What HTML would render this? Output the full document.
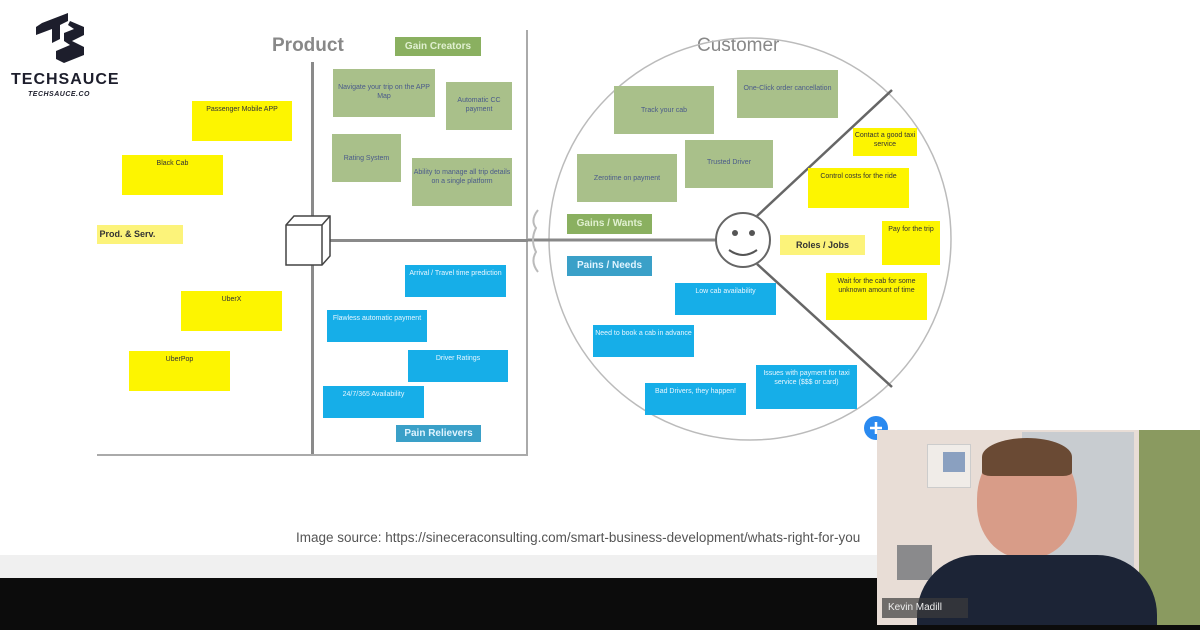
<!DOCTYPE html>
<html><head><meta charset="utf-8"><style>
body{margin:0;width:1200px;height:630px;overflow:hidden;background:#fff;font-family:"Liberation Sans",sans-serif;position:relative}
.b{position:absolute;font-size:7px;text-align:center;line-height:9px;padding-top:4px;box-sizing:border-box}
.y{background:#fdf500;color:#333}
.g{background:#a9c08a;color:#4a5a8a}
.c{background:#16aee8;color:#e8f6ff}
.l{position:absolute;font-size:10px;font-weight:bold;text-align:center;line-height:19px}
.ln{position:absolute;background:#8a8a8a}
</style></head><body>
<!-- logo -->
<svg style="position:absolute;left:34px;top:13px" width="56" height="52" viewBox="0 0 56 52">
<polygon points="8,10 34,0 34,8 26,12 26,26 18,30 18,16 2,22 2,14" fill="#1d1e2c"/>
<polygon points="36,8 50,14 50,22 38,28 50,34 50,42 30,50 22,46 22,38 36,32 30,28 30,20 40,16 34,12" fill="#1d1e2c"/>
</svg>
<div style="position:absolute;left:11px;top:71px;font-size:16px;font-weight:bold;color:#1d1e2c;letter-spacing:1px">TECHSAUCE</div>
<div style="position:absolute;left:28px;top:91px;font-size:7px;font-style:italic;font-weight:bold;color:#1d1e2c;letter-spacing:.5px">TECHSAUCE.CO</div>

<div style="position:absolute;left:272px;top:35px;font-size:19px;color:#888;font-weight:bold">Product</div>
<div style="position:absolute;left:697px;top:35px;font-size:19px;color:#888">Customer</div>

<div class="ln" style="left:311px;top:62px;width:3px;height:393px"></div>
<div class="ln" style="left:526px;top:30px;width:2px;height:426px;background:#aaa"></div>
<div class="ln" style="left:97px;top:454px;width:431px;height:2px;background:#aaa"></div>
<div class="ln" style="left:320px;top:239px;width:208px;height:3px"></div>

<svg style="position:absolute;left:0;top:0" width="1200" height="630">
<circle cx="750" cy="239" r="201" fill="none" stroke="#bbb" stroke-width="1.5"/>
<line x1="528" y1="240" x2="716" y2="240" stroke="#888" stroke-width="3"/>
<line x1="757" y1="216" x2="892" y2="90" stroke="#666" stroke-width="2.5"/>
<line x1="757" y1="264" x2="892" y2="387" stroke="#666" stroke-width="2.5"/>
<circle cx="743" cy="240" r="27" fill="#fff" stroke="#666" stroke-width="2"/>
<circle cx="735" cy="233" r="3" fill="#555"/><circle cx="752" cy="233" r="3" fill="#555"/>
<path d="M729 250 Q743 260 757 250" fill="none" stroke="#555" stroke-width="2"/>
<path d="M538 210 Q530 220 536 228 Q530 240 536 252 Q530 262 538 272" fill="none" stroke="#bbb" stroke-width="2"/>
<g stroke="#444" stroke-width="1.5" fill="#fff">
<polygon points="286,225 294,216 330,216 330,256 322,265 286,265"/>
<line x1="286" y1="225" x2="322" y2="225"/><line x1="322" y1="225" x2="330" y2="216"/><line x1="322" y1="225" x2="322" y2="265"/>
</g>
<circle cx="876" cy="428" r="12" fill="#2a8af0"/>
<path d="M876 422v12M870 428h12" stroke="#fff" stroke-width="2.5"/>
</svg>

<div class="l" style="left:395px;top:37px;width:86px;background:#8ab060;color:#e0f0d0">Gain Creators</div>
<div class="b y" style="left:192px;top:101px;width:100px;height:40px">Passenger Mobile APP</div>
<div class="b y" style="left:122px;top:155px;width:101px;height:40px">Black Cab</div>
<div class="l" style="left:97px;top:225px;width:86px;background:#fcf37a;color:#333;font-size:9px;text-align:left">&nbsp;Prod. &amp; Serv.</div>
<div class="b y" style="left:181px;top:291px;width:101px;height:40px">UberX</div>
<div class="b y" style="left:129px;top:351px;width:101px;height:40px">UberPop</div>

<div class="b g" style="left:333px;top:69px;width:102px;height:48px;padding-top:14px">Navigate your trip on the APP Map</div>
<div class="b g" style="left:446px;top:82px;width:66px;height:48px;padding-top:14px">Automatic CC payment</div>
<div class="b g" style="left:332px;top:134px;width:69px;height:48px;padding-top:20px">Rating System</div>
<div class="b g" style="left:412px;top:158px;width:100px;height:48px;padding-top:10px">Ability to manage all trip details on a single platform</div>

<div class="b c" style="left:405px;top:265px;width:101px;height:32px">Arrival / Travel time prediction</div>
<div class="b c" style="left:327px;top:310px;width:100px;height:32px">Flawless automatic payment</div>
<div class="b c" style="left:408px;top:350px;width:100px;height:32px">Driver Ratings</div>
<div class="b c" style="left:323px;top:386px;width:101px;height:32px">24/7/365 Availability</div>
<div class="l" style="left:396px;top:425px;width:85px;line-height:17px;background:#3aa0c8;color:#e0f4ff">Pain Relievers</div>

<div class="b g" style="left:614px;top:86px;width:100px;height:48px;padding-top:20px">Track your cab</div>
<div class="b g" style="left:737px;top:70px;width:101px;height:48px;padding-top:14px">One-Click order cancellation</div>
<div class="b g" style="left:577px;top:154px;width:100px;height:48px;padding-top:20px">Zerotime on payment</div>
<div class="b g" style="left:685px;top:140px;width:88px;height:48px;padding-top:18px">Trusted Driver</div>
<div class="l" style="left:567px;top:214px;width:85px;line-height:20px;background:#8ab060;color:#e0f0d0">Gains / Wants</div>
<div class="l" style="left:567px;top:256px;width:85px;line-height:20px;background:#3aa0c8;color:#e0f4ff">Pains / Needs</div>

<div class="b y" style="left:853px;top:128px;width:64px;height:28px;padding-top:3px">Contact a good taxi service</div>
<div class="b y" style="left:808px;top:168px;width:101px;height:40px">Control costs for the ride</div>
<div class="l" style="left:780px;top:235px;width:85px;line-height:20px;background:#fcf37a;color:#333;font-size:9px">Roles / Jobs</div>
<div class="b y" style="left:882px;top:221px;width:58px;height:44px">Pay for the trip</div>
<div class="b y" style="left:826px;top:273px;width:101px;height:47px">Wait for the cab for some unknown amount of time</div>

<div class="b c" style="left:675px;top:283px;width:101px;height:32px">Low cab availability</div>
<div class="b c" style="left:593px;top:325px;width:101px;height:32px">Need to book a cab in advance</div>
<div class="b c" style="left:756px;top:365px;width:101px;height:44px">Issues with payment for taxi service ($$$ or card)</div>
<div class="b c" style="left:645px;top:383px;width:101px;height:32px">Bad Drivers, they happen!</div>

<div style="position:absolute;left:296px;top:530px;font-size:13.5px;color:#555;white-space:nowrap;width:581px;overflow:hidden">Image source: https://sineceraconsulting.com/smart-business-development/whats-right-for-you</div>
<div style="position:absolute;left:0;top:555px;width:1200px;height:23px;background:#f0f0f0"></div>
<div style="position:absolute;left:0;top:578px;width:1200px;height:52px;background:#0c0c0c"></div>

<!-- video -->
<div style="position:absolute;left:877px;top:430px;width:323px;height:195px;background:#e8ddd6;overflow:hidden">
<div style="position:absolute;left:145px;top:2px;width:112px;height:195px;background:#c8ccd0"></div>
<div style="position:absolute;left:50px;top:14px;width:42px;height:42px;background:#f0ece8;border:1px solid #ccc"></div>
<div style="position:absolute;left:66px;top:22px;width:22px;height:20px;background:#8aa0c0"></div>
<div style="position:absolute;left:20px;top:115px;width:35px;height:35px;background:#8a8a8c"></div>
<div style="position:absolute;left:262px;top:0;width:61px;height:195px;background:#8a9a60"></div>
<div style="position:absolute;left:100px;top:10px;width:100px;height:118px;border-radius:50% 50% 45% 45%;background:#d89c88"></div>
<div style="position:absolute;left:105px;top:8px;width:90px;height:38px;border-radius:50% 50% 10% 10%;background:#6a4a34"></div>
<div style="position:absolute;left:40px;top:125px;width:240px;height:90px;border-radius:60px 60px 0 0;background:#1c2436"></div>
<div style="position:absolute;left:5px;top:168px;width:80px;height:20px;background:rgba(60,60,60,.7);color:#eee;font-size:10px;line-height:20px;padding-left:6px">Kevin Madill</div>
</div>
</body></html>
